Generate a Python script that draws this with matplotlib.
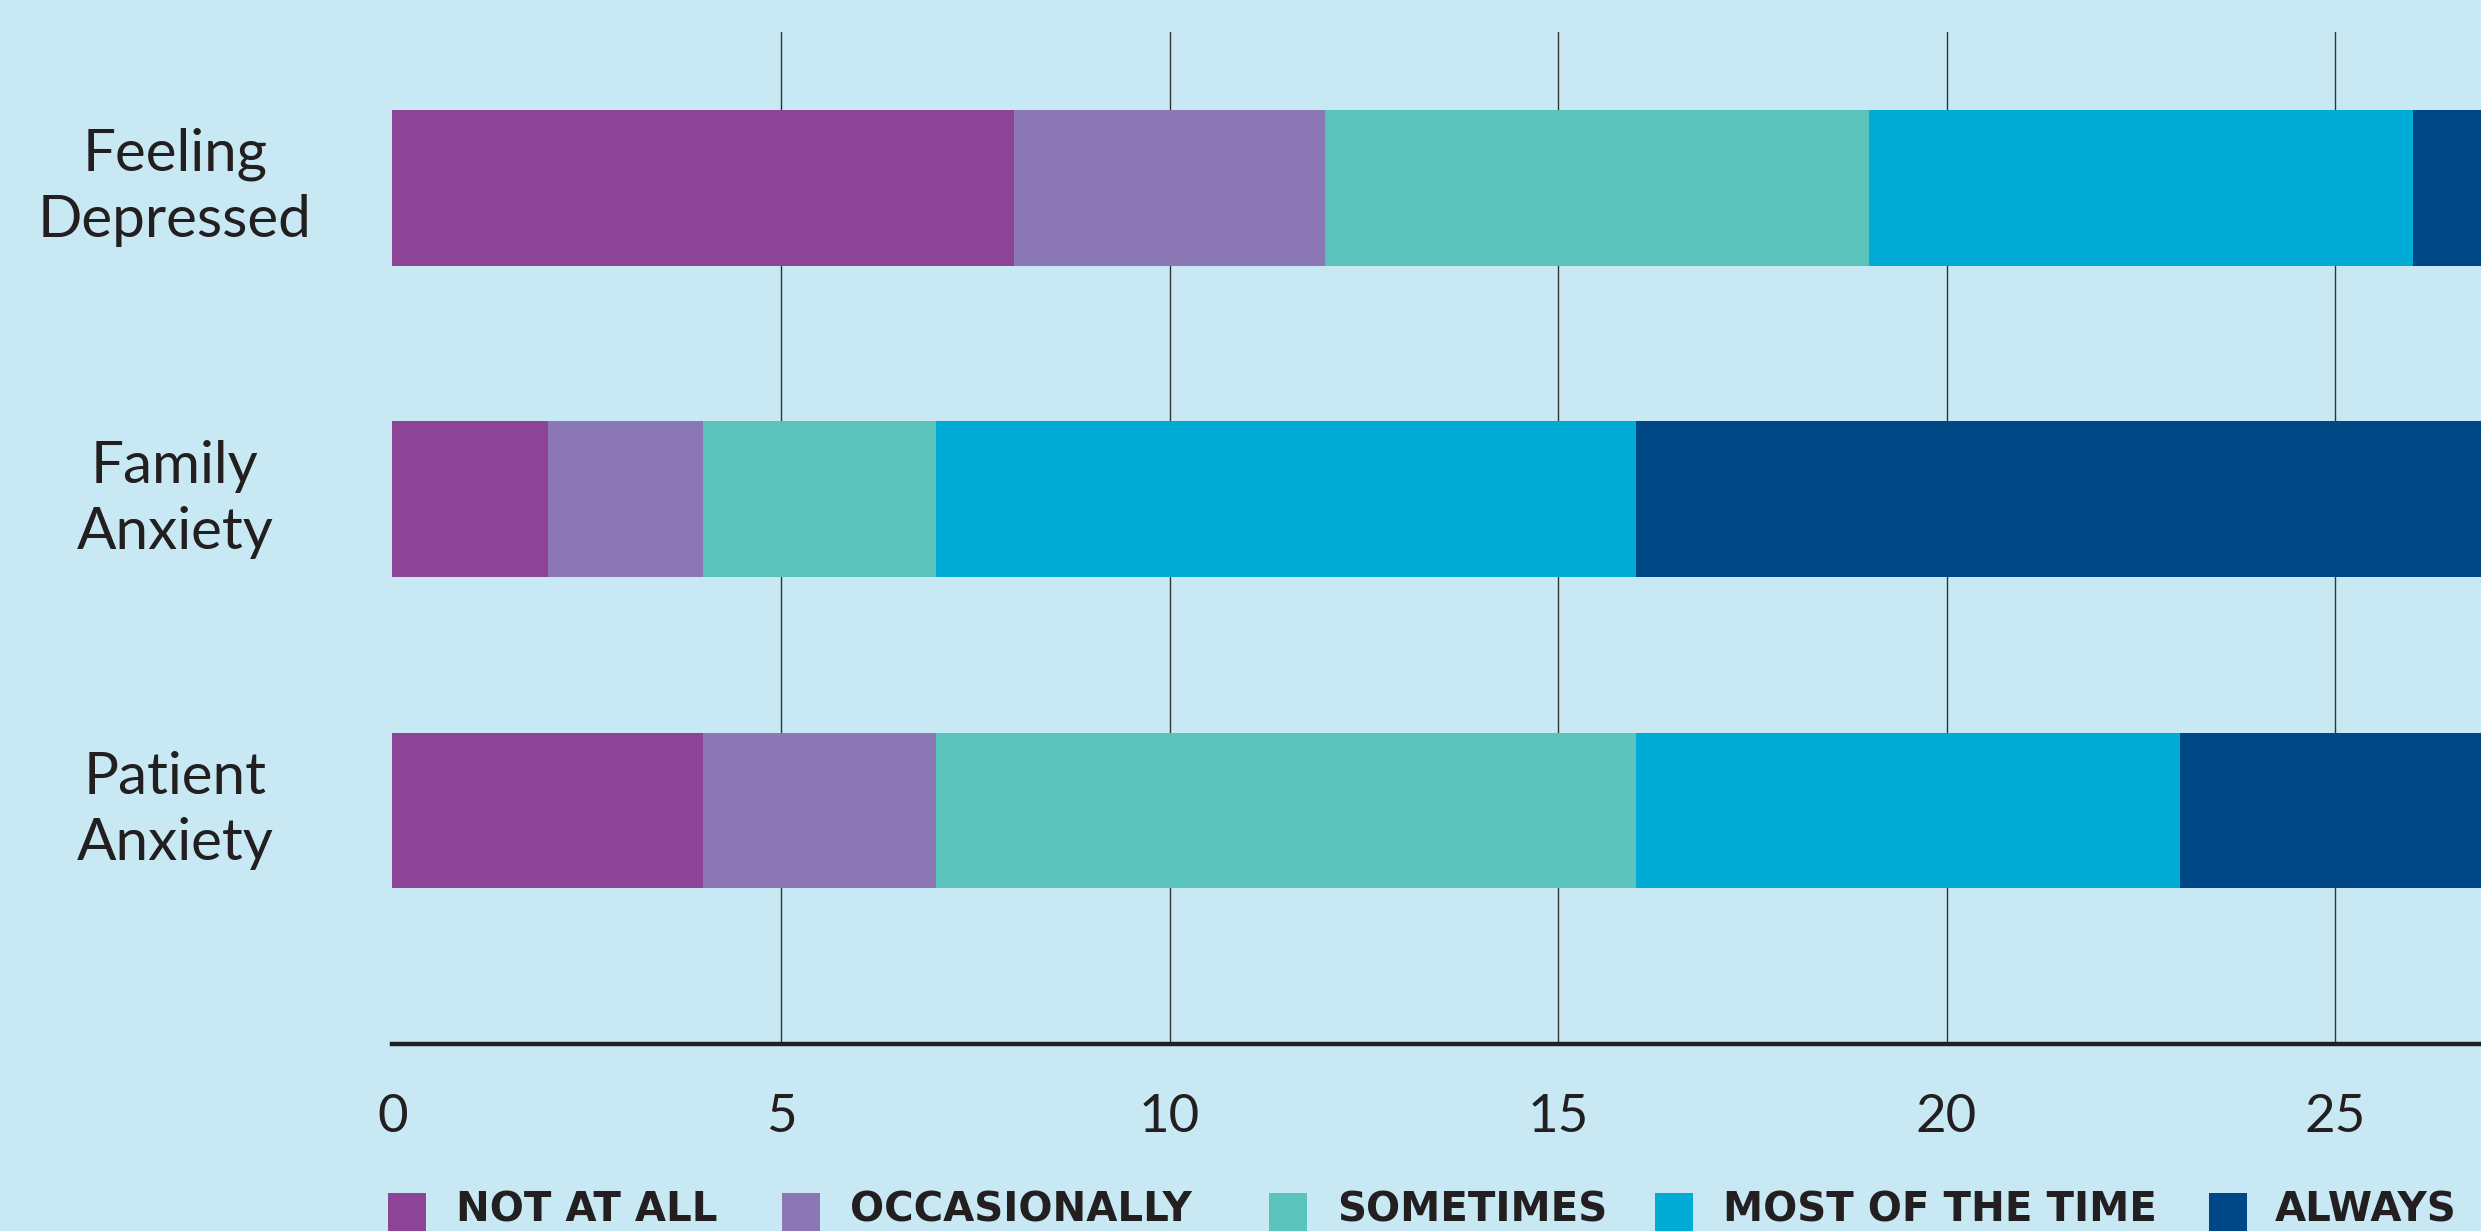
import matplotlib
matplotlib.use("Agg")
import matplotlib.pyplot as plt
from matplotlib.patches import Rectangle

categories = ["Patient\nAnxiety", "Family\nAnxiety", "Feeling\nDepressed"]
series_names = ["NOT AT ALL", "OCCASIONALLY", "SOMETIMES", "MOST OF THE TIME", "ALWAYS"]
not_at_all = [4, 2, 8]
occasionally = [3, 2, 4]
sometimes = [9, 3, 7]
most_of_time = [7, 9, 7]
always = [7, 14, 4]
xticks = [0, 5, 10, 15, 20, 25]
colors = ["#8E4496", "#8A77B4", "#5AC3BC", "#00ABD6", "#004785"]
bg = "#C8E9F3"
ink = "#231F20"

W, H, DPI = 2481, 1231, 100
fig = plt.figure(figsize=(W / DPI, H / DPI), dpi=DPI, facecolor=bg)
left = 392.5 / W
bottom = 1 - 1044 / H
top = 1 - 32 / H
ax = fig.add_axes([left, bottom, 1 - left, top - bottom])
ax.set_facecolor(bg)

values = [not_at_all, occasionally, sometimes, most_of_time, always]
ypos = list(range(len(categories)))
lefts = [0] * len(categories)
for name, vals, c in zip(series_names, values, colors):
    ax.barh(ypos, vals, left=lefts, height=0.5, color=c, label=name, zorder=3)
    lefts = [a + b for a, b in zip(lefts, vals)]

ax.set_xlim(0, (W - 392.5) / 77.7)
ax.set_ylim(-0.75, 2.5)
for x in xticks[1:]:
    ax.axvline(x, color="#333333", lw=1.0, zorder=1)
for s in ["top", "right", "left"]:
    ax.spines[s].set_visible(False)
ax.spines["bottom"].set_linewidth(3.2)
ax.spines["bottom"].set_color(ink)
ax.spines["bottom"].set_zorder(4)
ax.set_xticks(xticks)
ax.set_xticklabels([str(t) for t in xticks], fontsize=38, fontfamily="Lato",
                   fontweight="normal", color=ink)
ax.tick_params(axis="x", length=0, pad=36)
ax.set_yticks(ypos)
ax.set_yticklabels([])
ax.tick_params(axis="y", length=0)
for y, lab in zip(ypos, categories):
    ax.text(-2.8, y, lab, ha="center", va="center", fontsize=42, fontfamily="Lato",
            fontweight="normal", color=ink, linespacing=1.3,
            transform=ax.transData, clip_on=False)

# legend row
sq_x = [388, 782, 1269, 1655, 2209]
tx_x = [456, 850, 1337, 1723, 2275]
for name, c, sx, tx in zip(series_names, colors, sq_x, tx_x):
    fig.patches.append(Rectangle((sx / W, 0), 38 / W, 38 / H, transform=fig.transFigure,
                                 facecolor=c, edgecolor="none"))
    fig.text(tx / W, 10 / H, name, ha="left", va="baseline", fontsize=29,
             fontweight="bold", fontfamily="DejaVu Sans", color=ink)

fig.savefig("out.png", dpi=DPI, facecolor=bg)
